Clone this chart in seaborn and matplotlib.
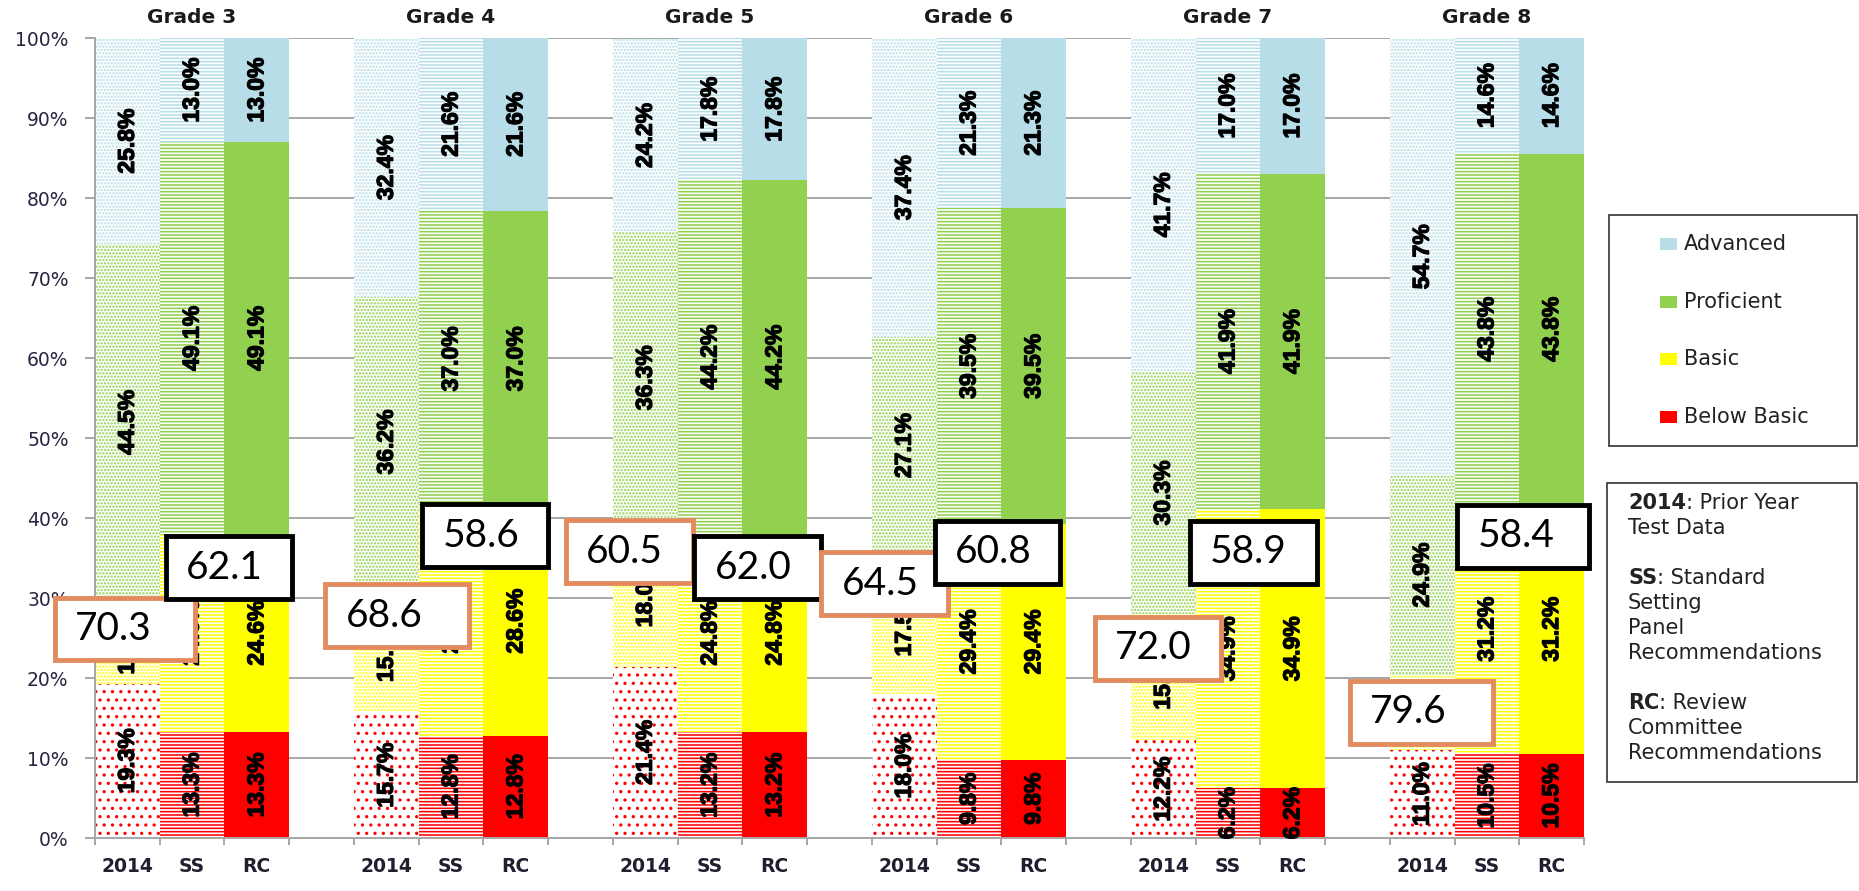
import numpy as np
import pandas as pd
import matplotlib
matplotlib.use("Agg")
import matplotlib.pyplot as plt
import matplotlib.patheffects as pe
import seaborn as sns
from matplotlib.patches import Rectangle

# ---------- data ----------
grades = ["Grade 3", "Grade 4", "Grade 5", "Grade 6", "Grade 7", "Grade 8"]
bar_types = ["2014", "SS", "RC"]
levels = ["Below Basic", "Basic", "Proficient", "Advanced"]
level_colors = ["#FF0000", "#FFFF00", "#92D050", "#B7DEE8"]

below_2014 = [19.3, 15.7, 21.4, 18.0, 12.2, 11.0]
basic_2014 = [10.4, 15.7, 18.0, 17.5, 15.8, 9.4]
prof_2014 = [44.5, 36.2, 36.3, 27.1, 30.3, 24.9]
adv_2014 = [25.8, 32.4, 24.2, 37.4, 41.7, 54.7]

below_ss = [13.3, 12.8, 13.2, 9.8, 6.2, 10.5]
basic_ss = [24.6, 28.6, 24.8, 29.4, 34.9, 31.2]
prof_ss = [49.1, 37.0, 44.2, 39.5, 41.9, 43.8]
adv_ss = [13.0, 21.6, 17.8, 21.3, 17.0, 14.6]

below_rc = [13.3, 12.8, 13.2, 9.8, 6.2, 10.5]
basic_rc = [24.6, 28.6, 24.8, 29.4, 34.9, 31.2]
prof_rc = [49.1, 37.0, 44.2, 39.5, 41.9, 43.8]
adv_rc = [13.0, 21.6, 17.8, 21.3, 17.0, 14.6]

# proficient + advanced call-outs
callout_2014 = [70.3, 68.6, 60.5, 64.5, 72.0, 79.6]
callout_rec = [62.1, 58.6, 62.0, 60.8, 58.9, 58.4]

# call-out box placement (offset from first bar of each grade, y bottom in %)
orange_left = [-1.16, -0.98, -1.27, -1.32, -1.10, -1.16]
orange_width = [2.25, 2.29, 2.04, 2.04, 2.03, 2.29]
orange_bottom = [21.9, 23.6, 31.6, 27.6, 19.5, 11.5]
black_left = [0.55, 0.51, 0.72, 0.43, 0.37, 0.50]
black_width = [2.04, 2.03, 2.03, 2.02, 2.04, 2.11]
black_bottom = [29.6, 33.6, 29.6, 31.5, 31.5, 33.5]

series = {
    "2014": [below_2014, basic_2014, prof_2014, adv_2014],
    "SS": [below_ss, basic_ss, prof_ss, adv_ss],
    "RC": [below_rc, basic_rc, prof_rc, adv_rc],
}

rows = []
for g, grade in enumerate(grades):
    for t, kind in enumerate(bar_types):
        bottom = 0.0
        for k, lev in enumerate(levels):
            v = series[kind][k][g]
            rows.append(dict(grade=grade, kind=kind, level=lev, pos=4 * g + t,
                             value=v, bottom=bottom, top=bottom + v))
            bottom += v
df = pd.DataFrame(rows)

# ---------- figure ----------
plt.rcParams["hatch.linewidth"] = 1.15
W, H = 1859, 891
fig = plt.figure(figsize=(W / 100, H / 100), dpi=100)
ax = fig.add_axes([95 / W, 1 - 838 / H, 1489 / W, 800 / H])

# stacked bars: draw cumulative tops from the top level down
for k in range(3, -1, -1):
    sub = df[df["level"] == levels[k]]
    n0 = len(ax.patches)
    sns.barplot(data=sub, x="pos", y="top", native_scale=True, width=1.0,
                color=level_colors[k], saturation=1, errorbar=None,
                linewidth=0, ax=ax)
    for p in ax.patches[n0:]:
        pos = int(round(p.get_x() + p.get_width() / 2))
        kind = bar_types[pos % 4]
        p.set_linewidth(0)
        if kind == "2014":
            p.set_facecolor("white")
            p.set_edgecolor(level_colors[k])
            p.set_hatch(".." if k == 0 else ".....")
            p.set_linewidth(0)
        elif kind == "SS":
            p.set_facecolor("white")
            p.set_edgecolor(level_colors[k])
            p.set_hatch("-----")
            p.set_linewidth(0)

# segment labels
heavy = [pe.withStroke(linewidth=0.9, foreground="black")]
for r in df.itertuples():
    ax.text(r.pos, r.bottom + r.value / 2, f"{r.value:.1f}%", rotation=90,
            ha="center", va="center", fontsize=16.5, fontweight="bold",
            family=["Liberation Sans", "DejaVu Sans"], color="black",
            path_effects=heavy, zorder=4)

# axes styling
ax.set_xlim(-0.5, 22.5)
ax.set_ylim(0, 100)
ax.set_xlabel("")
ax.set_ylabel("")
ax.set_axisbelow(True)
ax.yaxis.grid(True, color="#A6A6A6", linewidth=1.4)
ax.xaxis.grid(False)
for s in ["top", "right"]:
    ax.spines[s].set_visible(False)
for s in ["left", "bottom"]:
    ax.spines[s].set_color("#A6A6A6")
    ax.spines[s].set_linewidth(1.4)

centers = [4 * g + t for g in range(6) for t in range(3)]
ax.set_xticks(centers)
ax.set_xticklabels(bar_types * 6, fontsize=13.5, fontweight="bold", color="#1f1f2f")
ax.set_xticks(np.arange(-0.5, 23, 1), minor=True)
ax.tick_params(axis="x", which="major", length=0, pad=14)
ax.tick_params(axis="x", which="minor", length=5, width=1.4, color="#A6A6A6")

ax.set_yticks(np.arange(0, 101, 10))
ax.set_yticklabels([f"{v}%" for v in range(0, 101, 10)], fontsize=13.5, color="#262640")
ax.tick_params(axis="y", length=7, width=1.4, color="#A6A6A6", pad=12)

# grade titles
for g, grade in enumerate(grades):
    ax.text(4 * g + 1, 102.6, grade, ha="center", va="center", fontsize=14.5,
            fontweight="bold", color="#1a1a1a", clip_on=False)

# call-out boxes
slot_px = 1489 / 23


def callout(x0, y0, w, color, txt):
    h = 8.4
    ax.add_patch(Rectangle((x0 + 0.04, y0 + 0.3), w - 0.08, h - 0.6, facecolor="white",
                           edgecolor=color, linewidth=3.5, zorder=6, clip_on=False))
    ax.text(x0 + 23 / slot_px, y0 + h / 2, txt, ha="left", va="center",
            fontsize=28, family=["Lato", "DejaVu Sans"], color="black",
            zorder=7, clip_on=False)


for g in range(6):
    callout(4 * g + orange_left[g], orange_bottom[g], orange_width[g], "#E38B5F",
            f"{callout_2014[g]:.1f}")
    callout(4 * g + black_left[g], black_bottom[g], black_width[g], "black",
            f"{callout_rec[g]:.1f}")


# ---------- right side boxes ----------
def fx(px):
    return px / W


def fy(py):
    return 1 - py / H


fig.add_artist(Rectangle((fx(1609), fy(446)), fx(1857) - fx(1609), fy(215) - fy(446),
                         transform=fig.transFigure, facecolor="white",
                         edgecolor="#333333", linewidth=1.2))
legend_y = [244, 302, 359, 417]
for k, yy in zip([3, 2, 1, 0], legend_y):
    fig.add_artist(Rectangle((fx(1660), fy(yy + 6)), fx(17), 12 / H,
                             transform=fig.transFigure, facecolor=level_colors[k],
                             edgecolor="none"))
    fig.text(fx(1684), fy(yy), levels[k], ha="left", va="center", fontsize=15,
             color="#222222")

fig.add_artist(Rectangle((fx(1607), fy(782)), fx(1857) - fx(1607), fy(483) - fy(782),
                         transform=fig.transFigure, facecolor="white",
                         edgecolor="#333333", linewidth=1.2))
note_lines = [
    (503, "2014", ": Prior Year"),
    (528, "", "Test Data"),
    (578, "SS", ": Standard"),
    (603, "", "Setting"),
    (628, "", "Panel"),
    (653, "", "Recommendations"),
    (703, "RC", ": Review"),
    (728, "", "Committee"),
    (753, "", "Recommendations"),
]
pending = []
for yy, bold, rest in note_lines:
    if bold:
        t = fig.text(fx(1628), fy(yy), bold, ha="left", va="center", fontsize=15,
                     fontweight="bold", color="#222222")
        pending.append((t, yy, rest))
    else:
        fig.text(fx(1628), fy(yy), rest, ha="left", va="center", fontsize=15,
                 color="#222222")

# normal-weight rest of the line goes right after the bold prefix
fig.canvas.draw()
renderer = fig.canvas.get_renderer()
for t, yy, rest in pending:
    bb = t.get_window_extent(renderer)
    fig.text(bb.x1 / W, fy(yy), rest, ha="left", va="center", fontsize=15,
             color="#222222")

fig.savefig("out.png", dpi=100)
